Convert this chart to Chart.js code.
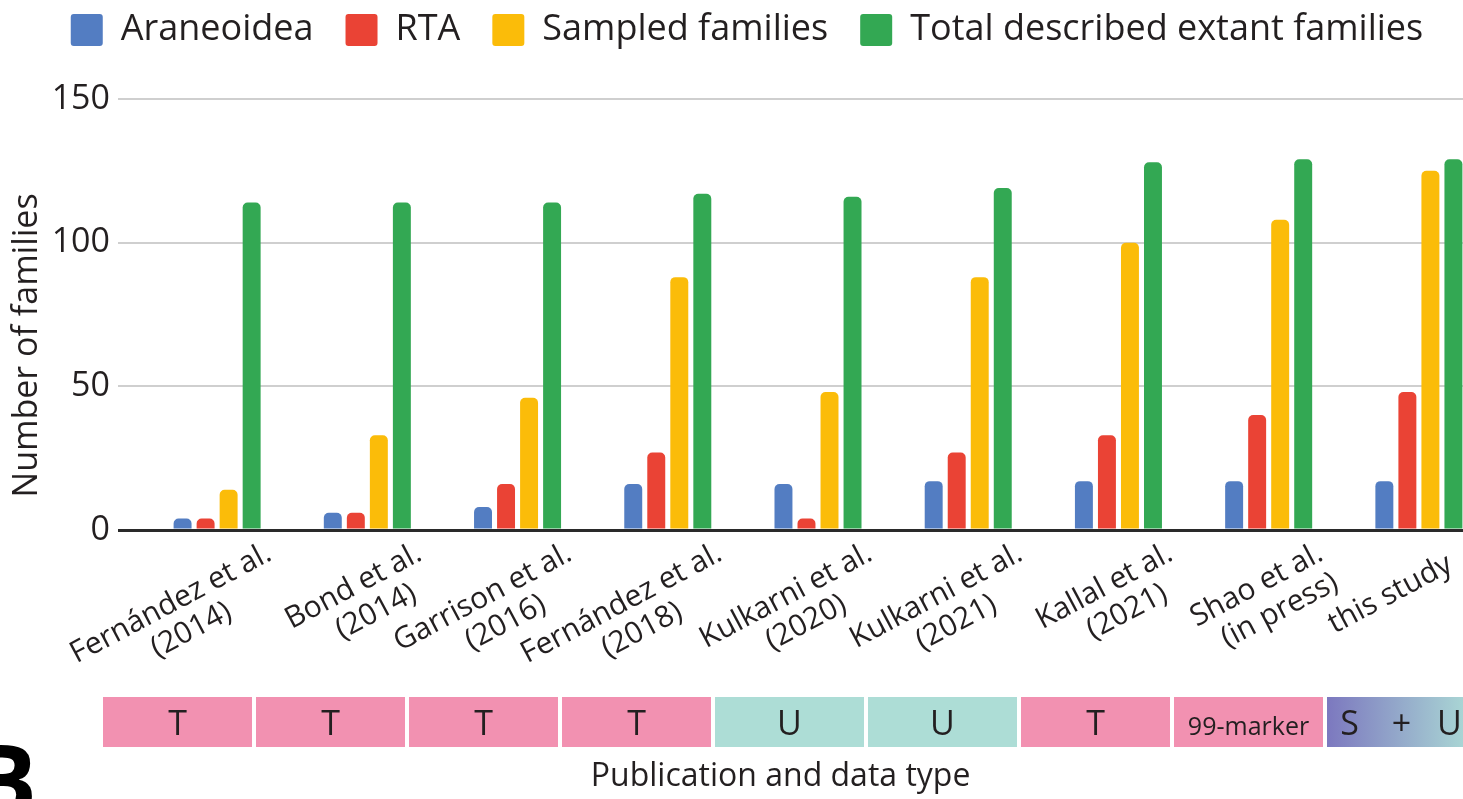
<!DOCTYPE html>
<html><head><meta charset="utf-8">
<script src="https://cdn.jsdelivr.net/npm/chart.js@4.4.1/dist/chart.umd.min.js"></script>
<style>
html,body{margin:0;padding:0;background:#fff;overflow:hidden;width:1463px;height:799px;}
#wrap{position:absolute;left:0;top:-20px;width:1500px;height:819px;}
canvas{display:block;}
</style></head><body>
<div id="wrap"><canvas id="c" width="1500" height="819"></canvas></div>
<script>
// ---- data ----
const studies = ['Fernández et al.', 'Bond et al.', 'Garrison et al.', 'Fernández et al.', 'Kulkarni et al.', 'Kulkarni et al.', 'Kallal et al.', 'Shao et al.', 'this study'];
const years = ['(2014)', '(2014)', '(2016)', '(2018)', '(2020)', '(2021)', '(2021)', '(in press)', ''];
const dataTypes = ['T', 'T', 'T', 'T', 'U', 'U', 'T', '99-marker', 'S + U'];
const araneoidea = [4, 6, 8, 16, 16, 17, 17, 17, 17];
const rta = [4, 6, 16, 27, 4, 27, 33, 40, 48];
const sampled = [14, 33, 46, 88, 48, 88, 100, 108, 125];
const totalFamilies = [114, 114, 114, 117, 116, 119, 128, 129, 129];
const yTicks = [0, 50, 100, 150];

// ---- style ----
const FONT = "'Open Sans', sans-serif";
const TXT = '#231F20';
const COLORS = { blue: '#537DC2', red: '#EA4335', yellow: '#FBBC09', green: '#33A853' };
const PINK = '#F291B1', TEAL = '#ADDDD6';

const mctx = document.createElement('canvas').getContext('2d');
function tickLabel(i) {
  const l1 = studies[i], l2 = years[i];
  if (!l2) return l1 + '   ';
  mctx.font = '30px ' + FONT;
  const w1 = mctx.measureText(l1).width, w2 = mctx.measureText(l2).width, ws = mctx.measureText(' ').width;
  const n = Math.max(0, Math.round((w1 - w2) / 2 / ws) - 1);
  return [l1, l2 + ' '.repeat(n)];
}

const bandPlugin = {
  id: 'band',
  beforeLayout(chart) {
    const lg = chart.legend;
    if (lg && !lg.__gap) {
      const orig = lg.fit;
      lg.fit = function () { orig.call(this); this.height += 41; };
      lg.__gap = true;
    }
  },
  afterDraw(chart) {
    const { ctx, chartArea, scales: { x } } = chart;
    const cw = x.width / studies.length;
    const stride = cw * 1.0185;
    const left0 = chartArea.left - 39;
    const top = chartArea.bottom + 167, h = 50;
    const base = chartArea.bottom + 205;
    ctx.save();
    dataTypes.forEach((t, i) => {
      const l = left0 + i * stride, w = stride - 4;
      let fill = PINK;
      if (t === 'U') fill = TEAL;
      if (t === 'S + U') {
        const g = ctx.createLinearGradient(l, 0, l + w, 0);
        g.addColorStop(0, '#7C78BF');
        g.addColorStop(1, '#ADDDD6');
        fill = g;
      }
      ctx.fillStyle = fill;
      ctx.fillRect(l, top, w, h);
      const cx = l + w / 2;
      ctx.fillStyle = TXT;
      ctx.textAlign = 'center';
      ctx.textBaseline = 'alphabetic';
      if (t === 'S + U') {
        ctx.font = '34px ' + FONT;
        const parts = t.split(' ');
        ctx.fillText(parts[0], cx - 52, base);
        ctx.fillText(parts[1], cx, base);
        ctx.fillText(parts[2], cx + 48, base);
      } else if (t.length > 2) {
        ctx.font = '25px ' + FONT;
        ctx.fillText(t, cx, base);
      } else {
        ctx.font = '34px ' + FONT;
        ctx.fillText(t, cx, base);
      }
    });
    // panel letter
    ctx.font = 'bold 100px ' + FONT;
    ctx.textAlign = 'left';
    ctx.fillStyle = '#000';
    ctx.fillText('B', -30, chartArea.bottom + 287);
    ctx.restore();
  }
};

const ds = (label, data, color) => ({
  label, data, backgroundColor: color, borderWidth: 0,
  borderRadius: { topLeft: 5, topRight: 5, bottomLeft: 0, bottomRight: 0 },
  borderSkipped: false,
  categoryPercentage: 0.613, barPercentage: 0.78
});

new Chart(document.getElementById('c'), {
  type: 'bar',
  data: {
    labels: studies,
    datasets: [
      ds('Araneoidea', araneoidea, COLORS.blue),
      ds('RTA', rta, COLORS.red),
      ds('Sampled families', sampled, COLORS.yellow),
      ds('Total described extant families', totalFamilies, COLORS.green)
    ]
  },
  options: {
    responsive: false,
    animation: false,
    layout: { padding: { left: 0, right: 6, top: 0, bottom: 0 } },
    plugins: {
      legend: {
        position: 'top',
        labels: {
          font: { family: FONT, size: 36 },
          color: TXT,
          boxWidth: 32, boxHeight: 32, padding: 32,
          useBorderRadius: true, borderRadius: 3
        }
      },
      tooltip: { enabled: false }
    },
    scales: {
      x: {
        grid: { display: false, drawTicks: false },
        border: { display: false },
        ticks: {
          autoSkip: false, minRotation: 28, maxRotation: 28,
          labelOffset: 52, padding: 7,
          font: { family: FONT, size: 30, lineHeight: 1.1 },
          color: TXT,
          callback: (v, i) => tickLabel(i)
        },
        title: {
          display: true, text: 'Publication and data type' + ' '.repeat(9),
          font: { family: FONT, size: 32 }, color: TXT,
          padding: { top: 0, bottom: 3 }
        },
        afterFit: (s) => { s.height = 269; s.paddingLeft = 0; s.paddingRight = 0; }
      },
      y: {
        min: yTicks[0], max: yTicks[yTicks.length - 1],
        afterBuildTicks: (s) => { s.ticks = yTicks.map(v => ({ value: v })); },
        border: { display: false },
        grid: {
          color: (c) => (c.tick && c.tick.value === 0) ? '#2A2A2A' : '#CFCFCF',
          lineWidth: (c) => (c.tick && c.tick.value === 0) ? 3 : 2,
          tickLength: 24, drawTicks: true
        },
        ticks: {
          padding: 8, color: TXT,
          font: { family: FONT, size: 34, lineHeight: 1.0 }
        },
        title: {
          display: true, text: 'Number of families' + ' '.repeat(7),
          font: { family: FONT, size: 34 }, color: TXT,
          padding: { top: 6.6, bottom: 0 }
        },
        afterFit: (s) => { s.width = 142; s.paddingTop = 0; s.paddingBottom = 0; }
      }
    }
  },
  plugins: [bandPlugin]
});
</script>
</body></html>
